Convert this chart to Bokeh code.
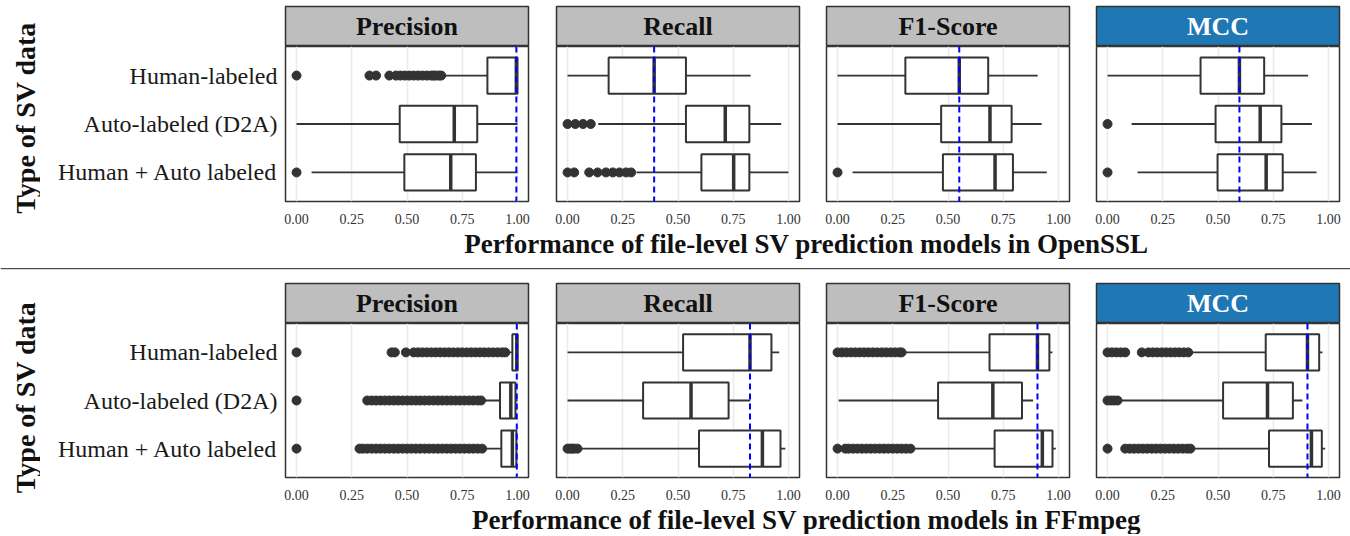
import math
from bokeh.plotting import figure
from bokeh.layouts import column, row
from bokeh.models import Range1d, FixedTicker, Span, Label, NumeralTickFormatter
from bokeh.embed import file_html
from bokeh.resources import INLINE

# ---------------- data ----------------
categories = ["Human-labeled", "Auto-labeled (D2A)", "Human + Auto labeled"]
metrics = ["Precision", "Recall", "F1-Score", "MCC"]
projects = ["OpenSSL", "FFmpeg"]
tick_values = [0.0, 0.25, 0.5, 0.75, 1.0]

# five-number summaries per category: [low whisker, q1, median, q3, high whisker]
openssl_precision = [[0.664, 0.864, 0.995, 1.000, 1.000], [0.000, 0.467, 0.714, 0.818, 1.000], [0.068, 0.488, 0.698, 0.812, 1.000]]
openssl_recall = [[0.000, 0.186, 0.392, 0.536, 0.829], [0.139, 0.536, 0.714, 0.823, 0.967], [0.312, 0.606, 0.752, 0.823, 1.000]]
openssl_f1 = [[0.000, 0.307, 0.551, 0.682, 0.906], [0.000, 0.469, 0.690, 0.788, 0.924], [0.068, 0.477, 0.713, 0.794, 0.947]]
openssl_mcc = [[0.000, 0.421, 0.597, 0.709, 0.908], [0.109, 0.489, 0.691, 0.787, 0.925], [0.136, 0.498, 0.718, 0.793, 0.946]]

ffmpeg_precision = [[0.955, 0.977, 0.997, 1.000, 1.000], [0.840, 0.921, 0.970, 0.991, 1.000], [0.848, 0.927, 0.977, 0.995, 1.000]]
ffmpeg_recall = [[0.000, 0.523, 0.826, 0.923, 0.958], [0.000, 0.342, 0.559, 0.729, 0.827], [0.058, 0.595, 0.882, 0.964, 0.986]]
ffmpeg_f1 = [[0.300, 0.688, 0.905, 0.959, 0.973], [0.005, 0.455, 0.703, 0.835, 0.885], [0.334, 0.711, 0.927, 0.973, 0.988]]
ffmpeg_mcc = [[0.370, 0.716, 0.905, 0.958, 0.973], [0.063, 0.523, 0.724, 0.839, 0.882], [0.380, 0.731, 0.923, 0.970, 0.985]]

# outliers per category
openssl_precision_out = [
    [0.0, 0.33, 0.36, 0.42, 0.45, 0.47, 0.49, 0.51, 0.53, 0.55, 0.57, 0.59, 0.61, 0.62, 0.63, 0.645, 0.655],
    [],
    [0.0],
]
openssl_recall_out = [
    [],
    [0.0, 0.035, 0.07, 0.105],
    [0.0, 0.03, 0.098, 0.136, 0.174, 0.205, 0.235, 0.265, 0.288],
]
openssl_f1_out = [[], [], [0.0]]
openssl_mcc_out = [[], [0.0], [0.0]]

ffmpeg_precision_out = [
    [0.0, 0.43, 0.445, 0.495, 0.53, 0.55, 0.57, 0.59, 0.61, 0.63, 0.65, 0.67, 0.69, 0.71, 0.73, 0.75,
     0.77, 0.79, 0.81, 0.83, 0.85, 0.87, 0.89, 0.91, 0.93, 0.945],
    [0.0, 0.32, 0.34, 0.36, 0.38, 0.40, 0.42, 0.44, 0.46, 0.48, 0.50, 0.52, 0.54, 0.56, 0.58, 0.60,
     0.62, 0.64, 0.66, 0.68, 0.70, 0.72, 0.74, 0.76, 0.78, 0.80, 0.82, 0.835],
    [0.0, 0.285, 0.30, 0.32, 0.34, 0.36, 0.38, 0.40, 0.42, 0.44, 0.46, 0.48, 0.50, 0.52, 0.54, 0.56,
     0.58, 0.60, 0.62, 0.64, 0.66, 0.68, 0.70, 0.72, 0.74, 0.76, 0.78, 0.80, 0.82, 0.84],
]
ffmpeg_recall_out = [[], [], [0.0, 0.01, 0.02, 0.03, 0.045]]
ffmpeg_f1_out = [
    [0.0, 0.02, 0.04, 0.06, 0.08, 0.10, 0.12, 0.14, 0.16, 0.18, 0.20, 0.22, 0.24, 0.26, 0.28, 0.29],
    [],
    [0.0, 0.035, 0.05, 0.07, 0.09, 0.11, 0.13, 0.15, 0.17, 0.19, 0.21, 0.23, 0.25, 0.27, 0.29, 0.31, 0.33],
]
ffmpeg_mcc_out = [
    [0.0, 0.02, 0.04, 0.06, 0.08, 0.155, 0.185, 0.205, 0.225, 0.245, 0.265, 0.285, 0.305, 0.325, 0.345, 0.365],
    [0.0, 0.015, 0.03, 0.045],
    [0.0, 0.08, 0.10, 0.12, 0.14, 0.16, 0.18, 0.20, 0.22, 0.24, 0.26, 0.28, 0.30, 0.32, 0.34, 0.36, 0.375],
]

# reference (dashed) lines: median of Human-labeled
openssl_ref = [0.995, 0.392, 0.551, 0.597]
ffmpeg_ref = [0.997, 0.826, 0.905, 0.905]

stats = {
    "OpenSSL": [openssl_precision, openssl_recall, openssl_f1, openssl_mcc],
    "FFmpeg": [ffmpeg_precision, ffmpeg_recall, ffmpeg_f1, ffmpeg_mcc],
}
outs = {
    "OpenSSL": [openssl_precision_out, openssl_recall_out, openssl_f1_out, openssl_mcc_out],
    "FFmpeg": [ffmpeg_precision_out, ffmpeg_recall_out, ffmpeg_f1_out, ffmpeg_mcc_out],
}
refs = {"OpenSSL": openssl_ref, "FFmpeg": ffmpeg_ref}

# ---------------- style ----------------
FONT = "Liberation Serif"
DARK = "#333333"
YT_W = 40                      # width of y-title column
FRAME_W = 243
LEFTS = [245, 23, 22, 22]      # left borders of the 4 panels
RIGHT = 5
STRIP_H = 40
PANEL_BOTTOM = 28
FULL_W = 1350


def make_strip(title, idx, top):
    left = LEFTS[idx]
    is_mcc = title == "MCC"
    s = figure(width=left + FRAME_W + RIGHT, height=STRIP_H + top, x_range=Range1d(0, 1), y_range=Range1d(0, 1),
               x_axis_location=None, y_axis_location=None, toolbar_location=None, output_backend="svg",
               min_border_left=left, min_border_right=RIGHT, min_border_top=top, min_border_bottom=0)
    s.grid.visible = False
    s.background_fill_color = "#1F77B4" if is_mcc else "#BEBEBE"
    s.border_fill_color = "white"
    s.outline_line_color = DARK
    s.outline_line_width = 1.5
    s.add_layout(Label(x=0.5, y=0.5, text=title, text_align="center", text_baseline="middle",
                       text_font=FONT, text_font_style="bold", text_font_size="26px",
                       text_color="white" if is_mcc else "#111111"))
    return s


def make_panel(project, idx, frame_h):
    left = LEFTS[idx]
    first = idx == 0
    p = figure(width=left + FRAME_W + RIGHT, height=frame_h + PANEL_BOTTOM,
               x_range=Range1d(-0.05, 1.05), y_range=Range1d(0.4, 3.6),
               y_axis_location="left" if first else None,
               toolbar_location=None, output_backend="svg",
               min_border_left=left, min_border_right=RIGHT, min_border_top=0, min_border_bottom=PANEL_BOTTOM)
    n = len(categories)
    ys = [n - i for i in range(n)]
    st = stats[project][idx]
    low = [s[0] for s in st]
    q1 = [s[1] for s in st]
    med = [s[2] for s in st]
    q3 = [s[3] for s in st]
    high = [s[4] for s in st]
    half = 0.375
    p.segment(x0=low, y0=ys, x1=q1, y1=ys, line_color=DARK, line_width=1.8)
    p.segment(x0=q3, y0=ys, x1=high, y1=ys, line_color=DARK, line_width=1.8)
    p.hbar(y=ys, left=q1, right=q3, height=2 * half, fill_color="white", line_color=DARK, line_width=2)
    p.segment(x0=med, y0=[y - half for y in ys], x1=med, y1=[y + half for y in ys], line_color=DARK, line_width=3.5)
    ox, oy = [], []
    for y, vals in zip(ys, outs[project][idx]):
        ox.extend(vals)
        oy.extend([y] * len(vals))
    p.scatter(x=ox, y=oy, size=9, color=DARK)
    p.add_layout(Span(location=refs[project][idx], dimension="height", line_color="blue",
                      line_dash="6 4", line_width=2))

    p.background_fill_color = "white"
    p.outline_line_color = DARK
    p.outline_line_width = 1.5
    p.ygrid.visible = False
    p.xgrid.ticker = FixedTicker(ticks=tick_values)
    p.xgrid.grid_line_color = "#EBEBEB"
    p.xgrid.grid_line_width = 1.5
    p.xaxis.ticker = FixedTicker(ticks=tick_values)
    p.xaxis.formatter = NumeralTickFormatter(format="0.00")
    p.xaxis.axis_line_color = None
    p.xaxis.major_tick_line_color = None
    p.xaxis.minor_tick_line_color = None
    p.xaxis.major_label_standoff = 6
    p.xaxis.major_label_text_font = FONT
    p.xaxis.major_label_text_font_size = "14px"
    p.xaxis.major_label_text_color = DARK
    if first:
        p.yaxis.ticker = FixedTicker(ticks=ys)
        p.yaxis.major_label_overrides = {y: c for y, c in zip(ys, categories)}
        p.yaxis.axis_line_color = None
        p.yaxis.major_tick_line_color = None
        p.yaxis.minor_tick_line_color = None
        p.yaxis.major_label_standoff = 2
        p.yaxis.major_label_text_font = FONT
        p.yaxis.major_label_text_font_size = "24px"
        p.yaxis.major_label_text_color = "#1a1a1a"
    return p


def make_ytitle(height, yfrac):
    f = figure(width=YT_W, height=height, x_range=Range1d(0, 1), y_range=Range1d(0, 1),
               x_axis_location=None, y_axis_location=None, toolbar_location=None, output_backend="svg",
               min_border_left=0, min_border_right=0, min_border_top=0, min_border_bottom=0)
    f.grid.visible = False
    f.outline_line_color = None
    f.add_layout(Label(x=0.62, y=yfrac, text="Type of SV data", angle=math.pi / 2,
                       text_align="center", text_baseline="middle", text_font=FONT,
                       text_font_style="bold", text_font_size="28px", text_color="#111111"))
    return f


def make_xlabel(project, height, label_y, with_separator):
    f = figure(width=FULL_W, height=height, x_range=Range1d(0, 1), y_range=Range1d(0, 1),
               x_axis_location=None, y_axis_location=None, toolbar_location=None, output_backend="svg",
               min_border_left=0, min_border_right=0, min_border_top=0, min_border_bottom=0)
    f.grid.visible = False
    f.outline_line_color = None
    f.add_layout(Label(x=0.597, y=label_y, text="Performance of file-level SV prediction models in " + project,
                       text_align="center", text_baseline="middle", text_font=FONT,
                       text_font_style="bold", text_font_size="27px", text_color="#111111"))
    if with_separator:
        f.add_layout(Span(location=0.2, dimension="width", line_color="#222222", line_width=1))
    return f


def block(project, top, frame_h, yfrac):
    strips = row([make_strip(m, i, top) for i, m in enumerate(metrics)], spacing=0)
    panels = row([make_panel(project, i, frame_h) for i in range(len(metrics))], spacing=0)
    height = top + STRIP_H + frame_h + PANEL_BOTTOM
    return row([make_ytitle(height, yfrac), column([strips, panels], spacing=0)], spacing=0)


layout = column([
    block("OpenSSL", 6, 155, 0.487),
    make_xlabel("OpenSSL", 49, 0.70, True),
    block("FFmpeg", 5, 154, 0.476),
    make_xlabel("FFmpeg", 29, 0.5, False),
], spacing=0)
open("out.html", "w").write(file_html(layout, INLINE))
